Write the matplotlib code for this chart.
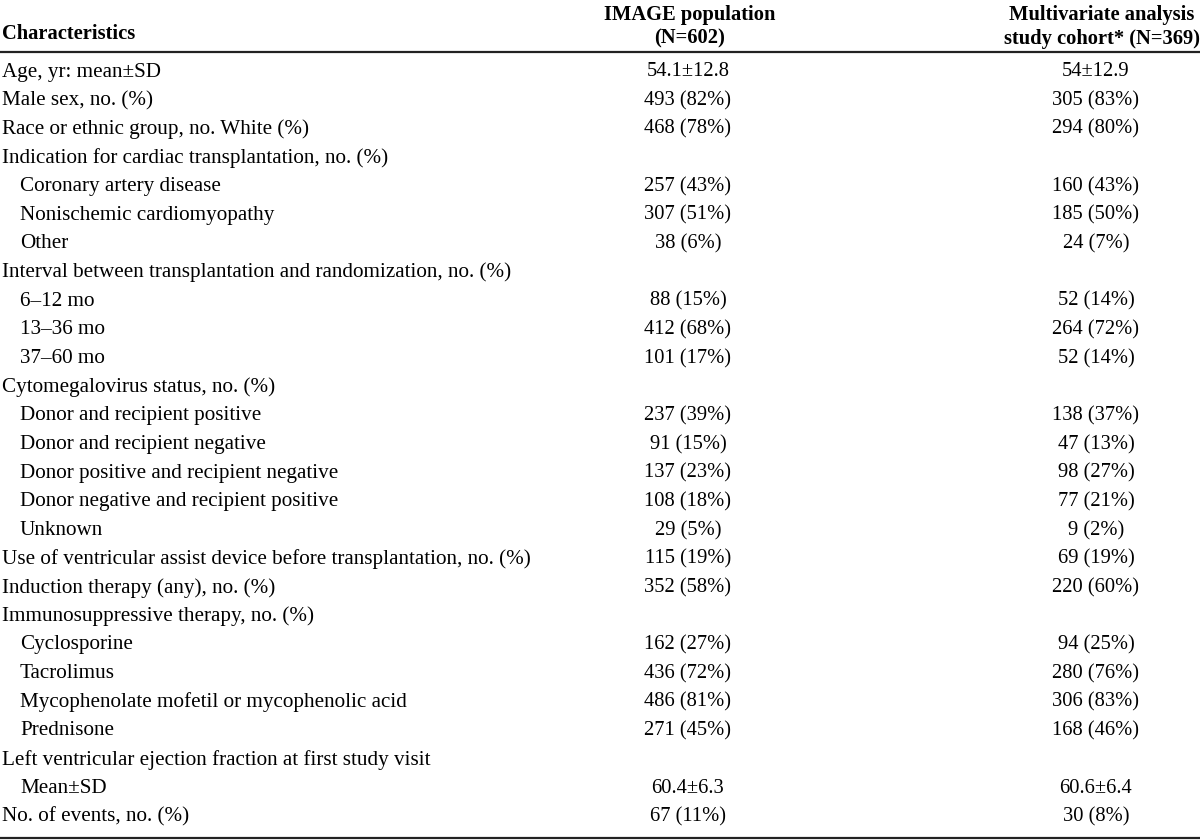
import matplotlib.pyplot as plt

plt.rcParams['font.family'] = ['Liberation Serif', 'DejaVu Serif']

# table content
labels = [
    "Age, yr: mean\u00b1SD",
    "Male sex, no. (%)",
    "Race or ethnic group, no. White (%)",
    "Indication for cardiac transplantation, no. (%)",
    "Coronary artery disease",
    "Nonischemic cardiomyopathy",
    "Other",
    "Interval between transplantation and randomization, no. (%)",
    "6\u201312 mo",
    "13\u201336 mo",
    "37\u201360 mo",
    "Cytomegalovirus status, no. (%)",
    "Donor and recipient positive",
    "Donor and recipient negative",
    "Donor positive and recipient negative",
    "Donor negative and recipient positive",
    "Unknown",
    "Use of ventricular assist device before transplantation, no. (%)",
    "Induction therapy (any), no. (%)",
    "Immunosuppressive therapy, no. (%)",
    "Cyclosporine",
    "Tacrolimus",
    "Mycophenolate mofetil or mycophenolic acid",
    "Prednisone",
    "Left ventricular ejection fraction at first study visit",
    "Mean\u00b1SD",
    "No. of events, no. (%)",
]
indented = [0, 0, 0, 0, 1, 1, 1, 0, 1, 1, 1, 0, 1, 1, 1, 1, 1, 0, 0, 0, 1, 1, 1, 1, 0, 1, 0]
image_pop = [
    "54.1\u00b112.8", "493 (82%)", "468 (78%)", "",
    "257 (43%)", "307 (51%)", "38 (6%)", "",
    "88 (15%)", "412 (68%)", "101 (17%)", "",
    "237 (39%)", "91 (15%)", "137 (23%)", "108 (18%)", "29 (5%)",
    "115 (19%)", "352 (58%)", "",
    "162 (27%)", "436 (72%)", "486 (81%)", "271 (45%)", "",
    "60.4\u00b16.3", "67 (11%)",
]
cohort = [
    "54\u00b112.9", "305 (83%)", "294 (80%)", "",
    "160 (43%)", "185 (50%)", "24 (7%)", "",
    "52 (14%)", "264 (72%)", "52 (14%)", "",
    "138 (37%)", "47 (13%)", "98 (27%)", "77 (21%)", "9 (2%)",
    "69 (19%)", "220 (60%)", "",
    "94 (25%)", "280 (76%)", "306 (83%)", "168 (46%)", "",
    "60.6\u00b16.4", "30 (8%)",
]
headers = ["Characteristics", "IMAGE population\n(N=602)",
           "Multivariate analysis\nstudy cohort* (N=369)"]

fig = plt.figure(figsize=(12, 8.4), dpi=100)
ax = fig.add_axes([0, 0, 1, 1])
ax.set_xlim(0, 1200)
ax.set_ylim(840, 0)
ax.axis('off')

fs = 15.2      # label column
fs_val = 14.8  # number columns
fs_head = 14.8
col1_x, col2_x = 688, 1096
row0, step = 72, 28.65

# header
ax.text(2, 34, headers[0], fontsize=fs_head, fontweight='bold', va='center', ha='left')
ax.text(690, 27, headers[1], fontsize=fs_head, fontweight='bold', va='center', ha='center',
        linespacing=1.25)
ax.text(1102, 27, headers[2], fontsize=fs_head, fontweight='bold', va='center', ha='center',
        linespacing=1.25)
ax.plot([0, 1200], [52, 52], color='#222222', lw=1.6, solid_capstyle='butt')

for i, lab in enumerate(labels):
    y = row0 + i * step
    x = 20 if indented[i] else 2
    ax.text(x, y, lab, fontsize=fs, va='center', ha='left')
    ax.text(col1_x, y, image_pop[i], fontsize=fs_val, va='center', ha='center')
    ax.text(col2_x, y, cohort[i], fontsize=fs_val, va='center', ha='center')

ax.plot([0, 1200], [838, 838], color='#222222', lw=1.6, solid_capstyle='butt')

fig.savefig('out.png', dpi=100)
